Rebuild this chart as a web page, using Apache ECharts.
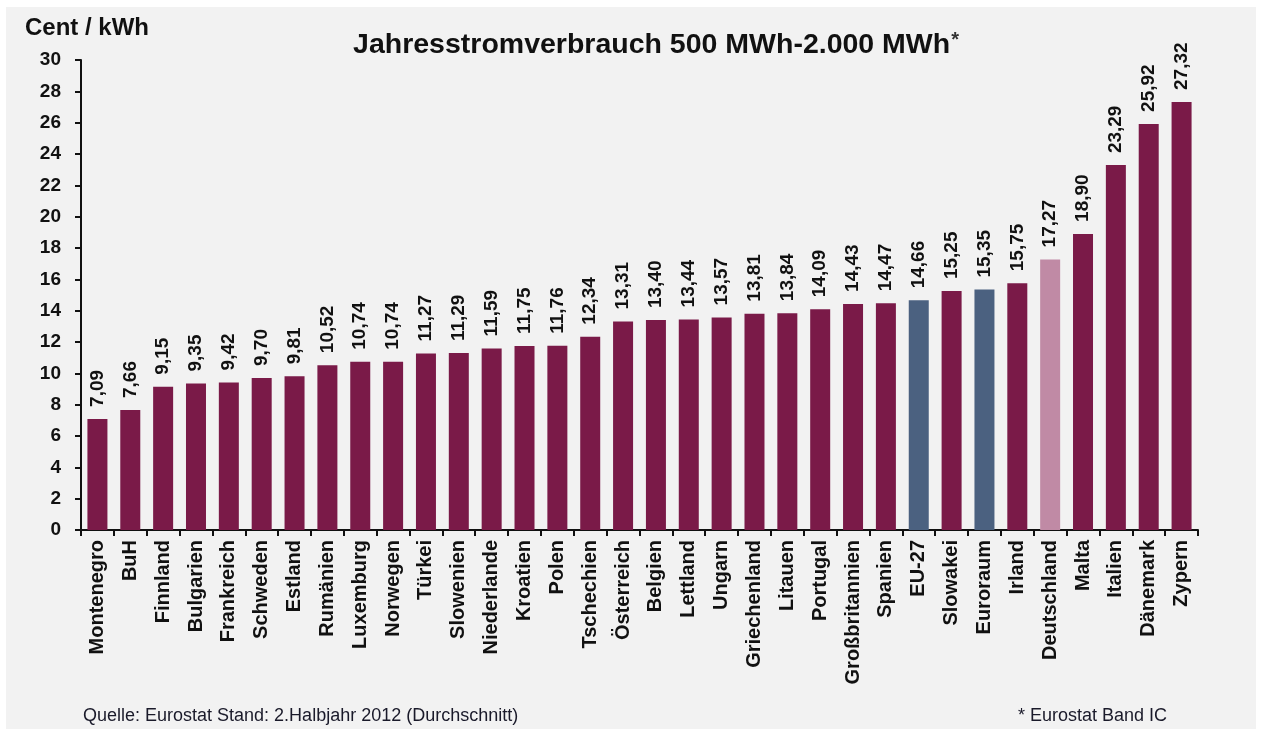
<!DOCTYPE html>
<html><head><meta charset="utf-8">
<script src="https://cdn.jsdelivr.net/npm/echarts@6/dist/echarts.min.js"></script>
<style>html,body{margin:0;padding:0;background:#fff}#c{width:1263px;height:729px}</style>
</head><body><div id="c"></div>
<script>
const categories = ['Montenegro','BuH','Finnland','Bulgarien','Frankreich','Schweden','Estland','Rumänien','Luxemburg','Norwegen','Türkei','Slowenien','Niederlande','Kroatien','Polen','Tschechien','Österreich','Belgien','Lettland','Ungarn','Griechenland','Litauen','Portugal','Großbritannien','Spanien','EU-27','Slowakei','Euroraum','Irland','Deutschland','Malta','Italien','Dänemark','Zypern'];
const values = [7.09,7.66,9.15,9.35,9.42,9.70,9.81,10.52,10.74,10.74,11.27,11.29,11.59,11.75,11.76,12.34,13.31,13.40,13.44,13.57,13.81,13.84,14.09,14.43,14.47,14.66,15.25,15.35,15.75,17.27,18.90,23.29,25.92,27.32];
const groupNames = ['EU-27','Euroraum'];
const highlightNames = ['Deutschland'];
const yTicks = [0,30,2];

const COL_MAIN = '#7a1a48', COL_GROUP = '#4b6180', COL_HI = '#c08aa5';
const FONT = '"Liberation Sans", Arial, sans-serif';
const chart = echarts.init(document.getElementById('c'), null, {renderer:'canvas'});
chart.setOption({
  backgroundColor: '#ffffff',
  animation: false,
  graphic: [
    {type:'rect', shape:{x:6,y:7,width:1250,height:722}, style:{fill:'#f2f2f2'}, z:-10},
    {type:'text', left:25, top:16, style:{text:'Cent / kWh', font:'bold 24px '+FONT, fill:'#111'}},
    {type:'text', left:83, top:707, style:{text:'Quelle: Eurostat Stand: 2.Halbjahr 2012 (Durchschnitt)', font:'18px '+FONT, fill:'#1a1a2a'}},
    {type:'text', left:1018, top:707, style:{text:'* Eurostat Band IC', font:'18px '+FONT, fill:'#1a1a2a'}}
  ],
  title: {
    text: '{t|Jahresstromverbrauch 500 MWh-2.000 MWh}{s|*}',
    left: 651, textAlign:'center', top: 25,
    textStyle: {rich:{
      t:{fontFamily:FONT, fontWeight:'bold', fontSize:28.5, color:'#111'},
      s:{fontFamily:FONT, fontSize:20, color:'#333', verticalAlign:'top', padding:[0,0,10,1]}
    }}
  },
  grid: {left:81, right:65, top:60, bottom:199, containLabel:false},
  xAxis: {
    type:'category', data: categories,
    axisLine:{lineStyle:{color:'#111', width:2}},
    axisTick:{show:true, length:6, lineStyle:{color:'#111', width:2}, alignWithLabel:false},
    axisLabel:{rotate:90, margin:10, interval:0, fontFamily:FONT, fontWeight:'bold', fontSize:20, color:'#111'}
  },
  yAxis: {
    type:'value', min:yTicks[0], max:yTicks[1], interval:yTicks[2],
    splitLine:{show:false},
    axisLine:{show:true, lineStyle:{color:'#111', width:2}},
    axisTick:{show:true, inside:false, length:6, lineStyle:{color:'#111', width:2}},
    axisLabel:{margin:20, fontFamily:FONT, fontWeight:'bold', fontSize:19, color:'#111'}
  },
  series: [{
    type:'bar', barWidth:20,
    data: values.map((v,i)=>({value:v, itemStyle:{color: groupNames.includes(categories[i]) ? COL_GROUP : (highlightNames.includes(categories[i]) ? COL_HI : COL_MAIN)}})),
    label:{show:true, position:'top', rotate:90, align:'left', verticalAlign:'middle', distance:12,
      fontFamily:FONT, fontWeight:'bold', fontSize:19, color:'#111',
      formatter: p => p.value.toFixed(2).replace('.', ',')}
  }]
});
</script></body></html>
